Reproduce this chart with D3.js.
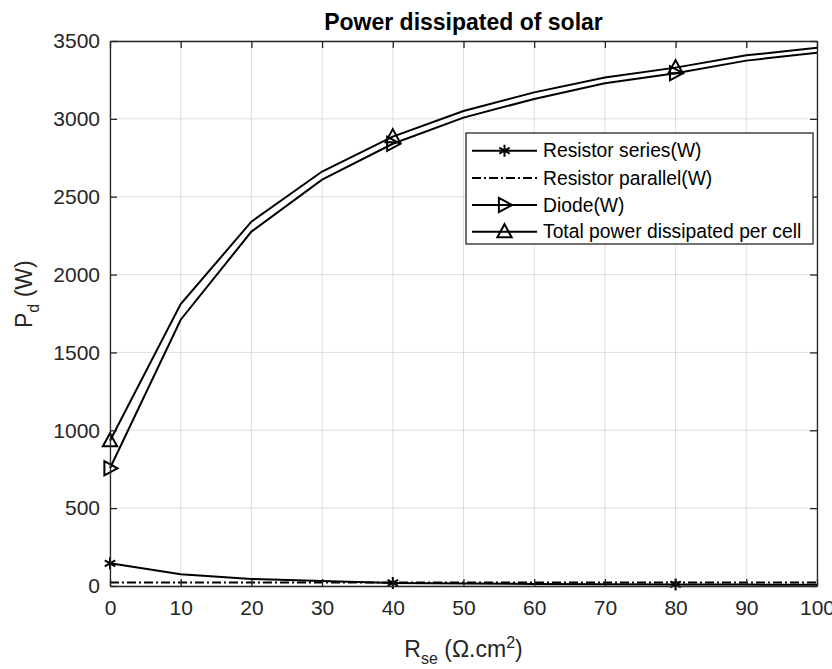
<!DOCTYPE html>
<html>
<head>
<meta charset="utf-8">
<script src="https://cdn.jsdelivr.net/npm/d3@7"></script>
<style>
  html, body { margin: 0; padding: 0; background: #fff; }
  svg { display: block; font-family: "Liberation Sans", Arial, Helvetica, sans-serif; }
</style>
</head>
<body>
<svg id="chart" width="832" height="669"></svg>
<script>
// ---- data ----
const rse = [0, 10, 20, 30, 40, 50, 60, 70, 80, 90, 100];
const resistorSeries   = [146, 75, 45, 32, 20, 16, 13, 11, 10, 9, 8];
const resistorParallel = [23, 23, 23, 23, 23, 23, 23, 23, 23, 23, 23];
const diode            = [756, 1710, 2276, 2610, 2840, 3008, 3128, 3229, 3293, 3374, 3425];
const totalPower       = [933, 1810, 2340, 2662, 2886, 3050, 3170, 3265, 3329, 3408, 3457];
const xTicks = [0, 10, 20, 30, 40, 50, 60, 70, 80, 90, 100];
const yTicks = [0, 500, 1000, 1500, 2000, 2500, 3000, 3500];
const markerIdx = [0, 4, 8];
const legendLabels = ["Resistor series(W)", "Resistor parallel(W)", "Diode(W)", "Total power dissipated per cell"];

// ---- layout ----
const L = 110, R = 817, T = 41, B = 586;
const axisColor = "#262626";
const svg = d3.select("#chart");

const x = d3.scaleLinear().domain([0, 100]).range([L, R]);
const y = d3.scaleLinear().domain([0, 3500]).range([B, T]);

// grid
const grid = svg.append("g");
grid.selectAll("line.gx").data(xTicks).join("line")
  .attr("x1", d => x(d)).attr("x2", d => x(d)).attr("y1", T).attr("y2", B)
  .attr("stroke", "rgba(38,38,38,0.15)").attr("stroke-width", 1);
grid.selectAll("line.gy").data(yTicks).join("line")
  .attr("y1", d => y(d)).attr("y2", d => y(d)).attr("x1", L).attr("x2", R)
  .attr("stroke", "rgba(38,38,38,0.15)").attr("stroke-width", 1);

// series
const series = [
  { key: "series", vals: resistorSeries, dash: null, marker: "star" },
  { key: "parallel", vals: resistorParallel, dash: "9,3,2,3", marker: null },
  { key: "diode", vals: diode, dash: null, marker: "right" },
  { key: "total", vals: totalPower, dash: null, marker: "up" }
];

const line = d3.line().x(d => x(d[0])).y(d => y(d[1]));

function drawMarker(g, type, cx, cy) {
  const s = 7.5;
  if (type === "up") {
    g.append("path")
      .attr("d", `M${cx},${cy - s} L${cx + s * 0.95},${cy + s * 0.75} L${cx - s * 0.95},${cy + s * 0.75} Z`)
      .attr("fill", "none").attr("stroke", "#000").attr("stroke-width", 2).attr("stroke-linejoin", "miter");
  } else if (type === "right") {
    g.append("path")
      .attr("d", `M${cx + s},${cy} L${cx - s * 0.75},${cy + s * 0.95} L${cx - s * 0.75},${cy - s * 0.95} Z`)
      .attr("fill", "none").attr("stroke", "#000").attr("stroke-width", 2).attr("stroke-linejoin", "miter");
  } else if (type === "star") {
    const r = 6;
    let d = `M${cx},${cy - r}L${cx},${cy + r}`;
    d += `M${cx - r * 0.87},${cy - r * 0.5}L${cx + r * 0.87},${cy + r * 0.5}`;
    d += `M${cx - r * 0.87},${cy + r * 0.5}L${cx + r * 0.87},${cy - r * 0.5}`;
    g.append("path").attr("d", d).attr("stroke", "#000").attr("stroke-width", 2).attr("fill", "none");
  }
}

const plot = svg.append("g");
series.forEach(s => {
  const pts = rse.map((r, i) => [r, s.vals[i]]);
  plot.append("path").datum(pts)
    .attr("d", line)
    .attr("fill", "none").attr("stroke", "#000").attr("stroke-width", 2)
    .attr("stroke-dasharray", s.dash);
  if (s.marker) {
    markerIdx.forEach(i => drawMarker(plot, s.marker, x(rse[i]), y(s.vals[i])));
  }
});

// axes (inward ticks, box)
const fontAx = 21;
const xAxis = svg.append("g").attr("transform", `translate(0,${B})`)
  .call(d3.axisBottom(x).tickValues(xTicks).tickSize(-7).tickPadding(14).tickSizeOuter(0).tickFormat(d3.format("d")));
const xTop = svg.append("g").attr("transform", `translate(0,${T})`)
  .call(d3.axisTop(x).tickValues(xTicks).tickSize(-7).tickFormat("").tickSizeOuter(0));
const yAxis = svg.append("g").attr("transform", `translate(${L},0)`)
  .call(d3.axisLeft(y).tickValues(yTicks).tickSize(-7).tickPadding(10).tickSizeOuter(0).tickFormat(d3.format("d")));
const yRight = svg.append("g").attr("transform", `translate(${R},0)`)
  .call(d3.axisRight(y).tickValues(yTicks).tickSize(-7).tickFormat("").tickSizeOuter(0));

[xAxis, xTop, yAxis, yRight].forEach(g => {
  g.selectAll(".domain").attr("stroke", axisColor).attr("stroke-width", 1.3);
  g.selectAll(".tick line").attr("stroke", axisColor).attr("stroke-width", 1.3);
  g.selectAll(".tick text").attr("fill", axisColor).attr("font-size", fontAx)
    .attr("font-family", "'Liberation Sans', Arial, sans-serif");
});

// title
svg.append("text").attr("x", (L + R) / 2).attr("y", 30)
  .attr("text-anchor", "middle").attr("font-size", 23).attr("font-weight", "bold")
  .attr("fill", "#000").text("Power dissipated of solar");

// x label
const xl = svg.append("text").attr("x", (L + R) / 2).attr("y", 657)
  .attr("text-anchor", "middle").attr("font-size", 23).attr("fill", axisColor);
xl.append("tspan").text("R");
xl.append("tspan").attr("font-size", 16).attr("dy", 7).text("se");
xl.append("tspan").attr("dy", -7).text(" (Ω.cm");
xl.append("tspan").attr("font-size", 16).attr("dy", -9).text("2");
xl.append("tspan").attr("dy", 9).text(")");

// y label
const yl = svg.append("text")
  .attr("transform", `translate(32,328) rotate(-90)`)
  .attr("text-anchor", "start").attr("font-size", 23).attr("fill", axisColor);
yl.append("tspan").text("P");
yl.append("tspan").attr("font-size", 16).attr("dy", 7).text("d");
yl.append("tspan").attr("dy", -7).text(" (W)");

// legend
const lg = svg.append("g");
lg.append("rect").attr("x", 466).attr("y", 133).attr("width", 347).attr("height", 111)
  .attr("fill", "#fff").attr("stroke", axisColor).attr("stroke-width", 1.3);
const rowY = [150.7, 178, 205, 231.7];
series.forEach((s, i) => {
  const yy = rowY[i];
  lg.append("line").attr("x1", 472).attr("x2", 537).attr("y1", yy).attr("y2", yy)
    .attr("stroke", "#000").attr("stroke-width", 2).attr("stroke-dasharray", s.dash);
  if (s.marker) drawMarker(lg, s.marker, 504.5, yy);
  lg.append("text").attr("x", 543).attr("y", yy).attr("dy", "0.35em")
    .attr("font-size", 19.3).attr("fill", "#000").text(legendLabels[i]);
});
</script>
</body>
</html>
